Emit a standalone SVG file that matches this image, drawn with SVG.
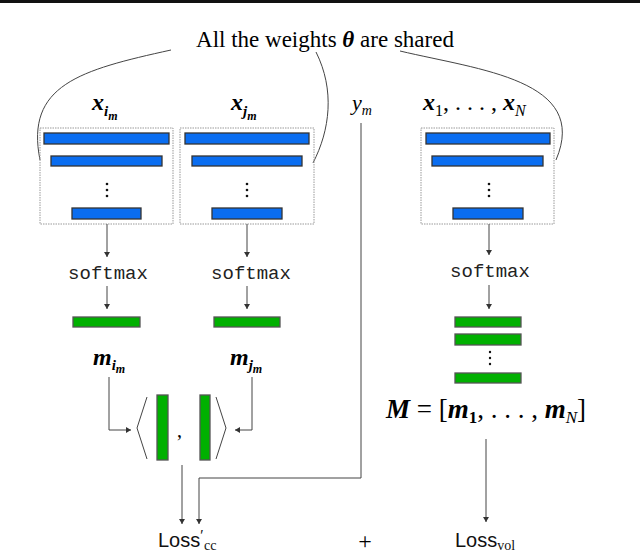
<svg xmlns="http://www.w3.org/2000/svg" width="640" height="557" viewBox="0 0 640 557">
<defs>
<marker id="ah" markerWidth="6" markerHeight="6" refX="5" refY="3" orient="auto" markerUnits="userSpaceOnUse"><path d="M0,0 L5,3 L0,6 z" fill="#333"/></marker>
<style>
.box{fill:none;stroke:#999;stroke-width:1;stroke-dasharray:1.5 1}
.blue{fill:#0a6df0;stroke:#333;stroke-width:1.3}
.green{fill:#00b000;stroke:#555;stroke-width:1.3}
.ln{fill:none;stroke:#444;stroke-width:1}
.ar{fill:none;stroke:#444;stroke-width:1;marker-end:url(#ah)}
.mth{font-family:"Liberation Serif",serif;font-size:24px;font-weight:bold;font-style:italic}
.mono{font-family:"Liberation Mono",monospace;font-size:19px;fill:#222}
.sans{font-family:"Liberation Sans",sans-serif;font-size:20px;fill:#111}
.dot{fill:#111}
</style>
</defs>
<rect width="640" height="557" fill="#fff"/>
<rect x="0" y="0" width="640" height="3" fill="#111"/>
<text x="325" y="47" text-anchor="middle" font-family="Liberation Serif,serif" font-size="23">All the weights <tspan font-weight="bold" font-style="italic">θ</tspan> are shared</text>
<g id="curves" class="ln">
<path d="M171,50 C80,70 25,85 40,160"/>
<path d="M316,52 C335,90 330,130 313,163"/>
<path d="M400,51 C480,70 590,80 556,160"/>
</g>
<g id="enc1">
<text class="mth" x="92" y="110">x<tspan font-size="15" dy="6">i</tspan><tspan font-size="12" dy="4">m</tspan></text>
<rect class="box" x="40" y="128" width="133" height="96"/>
<rect class="blue" x="44" y="133" width="125" height="11"/>
<rect class="blue" x="51" y="156" width="111" height="10"/>
<circle class="dot" cx="107" cy="184" r="1.3"/><circle class="dot" cx="107" cy="190" r="1.3"/><circle class="dot" cx="107" cy="196" r="1.3"/>
<rect class="blue" x="72" y="208" width="69" height="11"/>
</g>
<g id="enc2">
<text class="mth" x="231" y="110">x<tspan font-size="15" dy="6">j</tspan><tspan font-size="12" dy="4">m</tspan></text>
<rect class="box" x="180" y="128" width="134" height="96"/>
<rect class="blue" x="185" y="133" width="124" height="11"/>
<rect class="blue" x="192" y="156" width="110" height="10"/>
<circle class="dot" cx="247" cy="184" r="1.3"/><circle class="dot" cx="247" cy="190" r="1.3"/><circle class="dot" cx="247" cy="196" r="1.3"/>
<rect class="blue" x="212" y="208" width="70" height="11"/>
</g>
<g id="enc3">
<text font-family="Liberation Serif,serif" font-size="24" x="423" y="110"><tspan font-weight="bold" font-style="italic">x</tspan><tspan font-size="16" dy="6">1</tspan><tspan dy="-6">, . . . , </tspan><tspan font-weight="bold" font-style="italic">x</tspan><tspan font-size="16" font-style="italic" dy="6">N</tspan></text>
<rect class="box" x="421" y="128" width="133" height="96"/>
<rect class="blue" x="426" y="133" width="124" height="11"/>
<rect class="blue" x="432" y="156" width="111" height="10"/>
<circle class="dot" cx="489" cy="184" r="1.3"/><circle class="dot" cx="489" cy="190" r="1.3"/><circle class="dot" cx="489" cy="196" r="1.3"/>
<rect class="blue" x="453" y="208" width="70" height="11"/>
</g>
<g id="ym"><text x="352" y="110" font-family="Liberation Serif,serif" font-size="22" font-style="italic">y<tspan font-size="14" dy="5">m</tspan></text></g>
<g id="sm1"><text class="mono" x="108" y="279" text-anchor="middle">softmax</text></g>
<g id="sm2"><text class="mono" x="251" y="279" text-anchor="middle">softmax</text></g>
<g id="sm3"><text class="mono" x="490" y="277" text-anchor="middle">softmax</text></g>
<g id="m1">
<rect class="green" x="73" y="317" width="67" height="10"/>
<text class="mth" x="93" y="365">m<tspan font-size="15" dy="5">i</tspan><tspan font-size="12" dy="3">m</tspan></text>
</g>
<g id="m2">
<rect class="green" x="214" y="317" width="66" height="10"/>
<text class="mth" x="230" y="365">m<tspan font-size="15" dy="5">j</tspan><tspan font-size="12" dy="3">m</tspan></text>
</g>
<g id="M">
<rect class="green" x="455" y="317" width="66" height="10"/>
<rect class="green" x="455" y="334" width="66" height="11"/>
<circle class="dot" cx="490" cy="352" r="1.2"/><circle class="dot" cx="490" cy="358" r="1.2"/><circle class="dot" cx="490" cy="364" r="1.2"/>
<rect class="green" x="455" y="373" width="66" height="10"/>
<text x="386" y="418" font-family="Liberation Serif,serif" font-size="27"><tspan font-weight="bold" font-style="italic">M</tspan> = [<tspan font-weight="bold" font-style="italic">m</tspan><tspan font-size="17" font-weight="bold" dy="5">1</tspan><tspan dy="-5">, . . . , </tspan><tspan font-weight="bold" font-style="italic">m</tspan><tspan font-size="17" font-style="italic" dy="5">N</tspan><tspan dy="-5">]</tspan></text>
</g>
<g id="inner">
<path class="ln" d="M147,397 L137,428 L147,459"/>
<rect class="green" x="157" y="395" width="11" height="65"/>
<text x="177" y="437" font-family="Liberation Serif,serif" font-size="20">,</text>
<rect class="green" x="200" y="395" width="10" height="65"/>
<path class="ln" d="M216,397 L226,428 L216,459"/>
</g>
<g id="losses">
<text class="sans" x="158" y="547">Loss<tspan font-size="15" dy="-7">′</tspan><tspan font-family="Liberation Serif,serif" font-size="14" dx="1" dy="10">cc</tspan></text>
<text x="365" y="549" font-family="Liberation Serif,serif" font-size="24" text-anchor="middle">+</text>
<text class="sans" x="455" y="547">Loss<tspan font-family="Liberation Serif,serif" font-size="14" dy="3">vol</tspan></text>
</g>
<g id="connectors">
<line class="ar" x1="107" y1="224" x2="107" y2="257"/>
<line class="ar" x1="247" y1="224" x2="247" y2="257"/>
<line class="ar" x1="489" y1="224" x2="489" y2="255"/>
<line class="ar" x1="107" y1="286" x2="107" y2="309"/>
<line class="ar" x1="247" y1="286" x2="247" y2="309"/>
<line class="ar" x1="489" y1="285" x2="489" y2="309"/>
<path class="ar" d="M109,377 V430 H131"/>
<path class="ar" d="M252,377 V430 H235"/>
<line class="ar" x1="182" y1="465" x2="182" y2="524"/>
<path class="ar" d="M361,123 V478 H199 V524" stroke="#777"/>
<line class="ar" x1="486" y1="439" x2="486" y2="522"/>
</g>
</svg>
